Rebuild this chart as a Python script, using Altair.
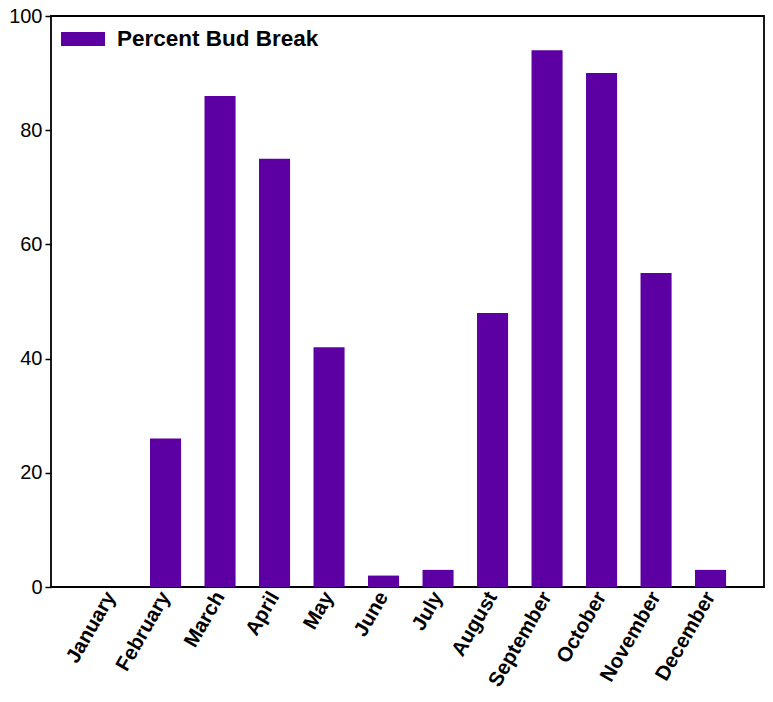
import altair as alt
import pandas as pd

months = ["January", "February", "March", "April", "May", "June", "July",
          "August", "September", "October", "November", "December"]
bud_break = [0, 26, 86, 75, 42, 2, 3, 48, 94, 90, 55, 3]
series_name = "Percent Bud Break"
bar_color = "#5C00A3"
y_ticks = [0, 20, 40, 60, 80, 100]

df = pd.DataFrame({"month": months, "value": bud_break, "series": [series_name] * len(months)})

FONT = "Liberation Sans"

chart = alt.Chart(df).mark_bar().encode(
    x=alt.X("month:N", sort=months,
            scale=alt.Scale(paddingInner=0.43, paddingOuter=0.756, align=0.54),
            axis=alt.Axis(title=None, ticks=False, domain=False, labelAngle=-60,
                          labelAlign="right", labelBaseline="middle",
                          labelFont=FONT, labelFontSize=20.5, labelFontWeight="bold",
                          labelColor="black", labelPadding=6, grid=False)),
    y=alt.Y("value:Q", scale=alt.Scale(domain=[0, 100], nice=False),
            axis=alt.Axis(title=None, values=y_ticks, grid=False, domain=False,
                          tickSize=6, tickColor="black", tickWidth=1.5,
                          labelFont=FONT, labelFontSize=20, labelColor="black",
                          labelPadding=3)),
    color=alt.Color("series:N", scale=alt.Scale(range=[bar_color]),
                    legend=alt.Legend(title=None, orient="none", legendX=10, legendY=1,
                                      padding=0, labelLimit=400,
                                      symbolType="M-1,-0.32H1V0.32H-1Z",
                                      symbolSize=1936, symbolStrokeWidth=0,
                                      symbolOpacity=1,
                                      labelFont=FONT, labelFontSize=22.5,
                                      labelFontWeight="bold", labelColor="black",
                                      labelOffset=12)),
).properties(
    width=713, height=571,
    autosize=alt.AutoSizeParams(type="none"),
    padding={"left": 43, "top": 8, "right": 1, "bottom": 104},
).configure_view(
    stroke="black", strokeWidth=1.8
)

chart.save("out.html", embed_options={"renderer": "svg", "actions": False})
